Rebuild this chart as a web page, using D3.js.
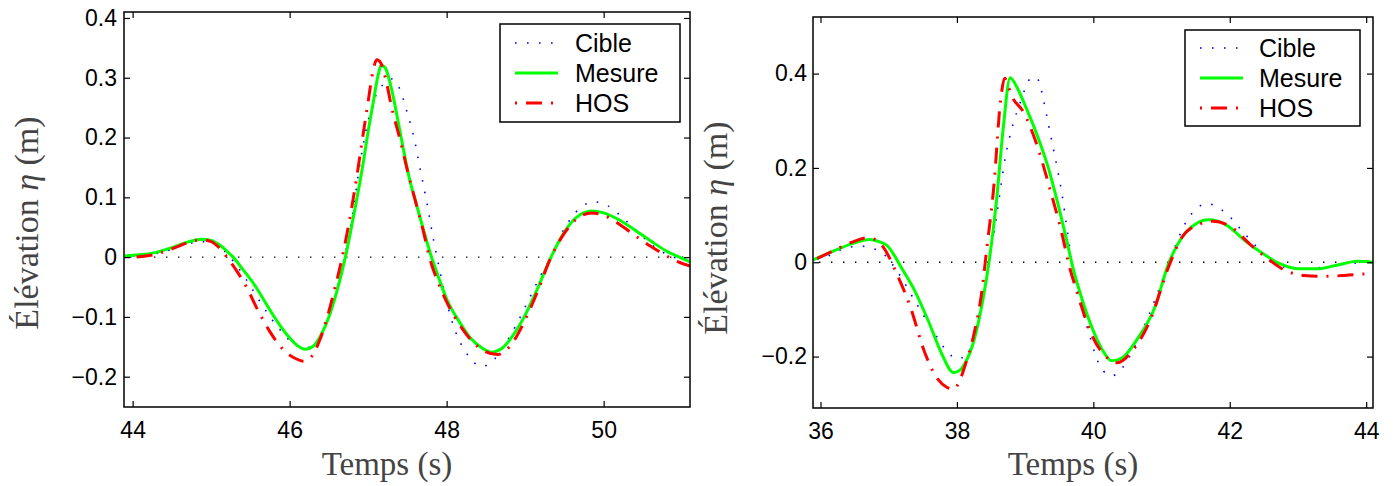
<!DOCTYPE html>
<html><head><meta charset="utf-8">
<script src="https://cdn.jsdelivr.net/npm/d3@7"></script>
<style>body{margin:0;background:#fff}svg{display:block}</style>
</head><body>
<svg id="c" width="1398" height="486"></svg>
<script>
// ---- data (time s, elevation m) ----
const leftXTicks = [44, 46, 48, 50];
const leftYTicks = [-0.2, -0.1, 0, 0.1, 0.2, 0.3, 0.4];
const rightXTicks = [36, 38, 40, 42, 44];
const rightYTicks = [-0.2, 0, 0.2, 0.4];
const seriesNames = ["Cible", "Mesure", "HOS"];

const leftCible = [[44.0,0.002],[44.3,0.006],[44.5,0.013],[44.7,0.022],[44.85,0.026],[45.0,0.024],[45.1,0.018],[45.2,0.006],[45.3,-0.01],[45.45,-0.038],[45.6,-0.07],[45.75,-0.1],[45.9,-0.125],[46.05,-0.145],[46.18,-0.152],[46.3,-0.148],[46.4,-0.13],[46.5,-0.1],[46.6,-0.055],[46.7,0.0],[46.8,0.07],[46.9,0.16],[46.97,0.21],[47.09,0.268],[47.2,0.29],[47.3,0.298],[47.4,0.282],[47.49,0.245],[47.6,0.19],[47.66,0.149],[47.75,0.09],[47.83,0.031],[47.92,-0.027],[48.0,-0.075],[48.1,-0.12],[48.25,-0.16],[48.45,-0.183],[48.6,-0.172],[48.75,-0.145],[48.9,-0.11],[49.05,-0.07],[49.2,-0.03],[49.33,0.0],[49.5,0.048],[49.7,0.082],[49.88,0.0925],[50.05,0.086],[50.25,0.065],[50.45,0.04],[50.65,0.017],[50.85,0.002],[51.1,-0.005]];
const leftMesure = [[43.9,0.002],[44.0,0.003],[44.3,0.008],[44.5,0.016],[44.7,0.025],[44.87,0.030],[45.0,0.028],[45.1,0.021],[45.2,0.010],[45.28,0.0],[45.4,-0.02],[45.55,-0.046],[45.7,-0.078],[45.85,-0.109],[46.0,-0.135],[46.1,-0.148],[46.2,-0.154],[46.3,-0.149],[46.4,-0.13],[46.5,-0.1],[46.6,-0.058],[46.71,0.0],[46.78,0.045],[46.86,0.1],[46.94,0.16],[47.0,0.21],[47.06,0.255],[47.12,0.30],[47.17,0.321],[47.22,0.316],[47.3,0.28],[47.37,0.235],[47.45,0.18],[47.53,0.129],[47.6,0.095],[47.7,0.048],[47.8,0.003],[47.9,-0.035],[48.0,-0.07],[48.17,-0.11],[48.3,-0.135],[48.45,-0.152],[48.57,-0.159],[48.7,-0.153],[48.85,-0.13],[49.0,-0.097],[49.15,-0.055],[49.33,0.0],[49.5,0.042],[49.65,0.066],[49.85,0.077],[50.0,0.074],[50.2,0.062],[50.4,0.045],[50.6,0.027],[50.8,0.01],[51.0,-0.002],[51.1,-0.008]];
const leftHOS = [[44.05,0.0],[44.3,0.005],[44.5,0.014],[44.7,0.024],[44.87,0.029],[45.0,0.026],[45.1,0.016],[45.2,0.0],[45.3,-0.018],[45.45,-0.05],[45.6,-0.09],[45.75,-0.125],[45.9,-0.152],[46.05,-0.168],[46.18,-0.174],[46.28,-0.166],[46.38,-0.14],[46.48,-0.1],[46.58,-0.05],[46.67,0.0],[46.76,0.06],[46.85,0.13],[46.93,0.2],[47.0,0.26],[47.06,0.31],[47.11,0.33],[47.16,0.325],[47.22,0.3],[47.3,0.25],[47.41,0.195],[47.5,0.145],[47.6,0.095],[47.7,0.045],[47.78,0.0],[47.9,-0.045],[48.0,-0.075],[48.2,-0.12],[48.4,-0.15],[48.65,-0.163],[48.8,-0.15],[49.0,-0.105],[49.15,-0.06],[49.33,0.0],[49.5,0.04],[49.65,0.063],[49.85,0.074],[50.0,0.07],[50.2,0.055],[50.4,0.036],[50.6,0.018],[50.8,0.002],[50.95,-0.008],[51.1,-0.015]];

const rightCible = [[35.95,0.007],[36.05,0.01],[36.39,0.031],[36.6,0.034],[36.75,0.03],[36.92,0.018],[37.12,-0.018],[37.38,-0.081],[37.65,-0.145],[37.85,-0.188],[38.01,-0.205],[38.18,-0.188],[38.31,-0.124],[38.44,-0.025],[38.58,0.096],[38.71,0.223],[38.81,0.286],[38.94,0.343],[39.05,0.385],[39.13,0.393],[39.2,0.385],[39.27,0.343],[39.37,0.272],[39.47,0.2],[39.54,0.145],[39.6,0.085],[39.66,0.025],[39.74,-0.046],[39.91,-0.138],[40.11,-0.223],[40.27,-0.241],[40.43,-0.223],[40.63,-0.173],[40.9,-0.081],[41.1,-0.004],[41.37,0.088],[41.67,0.124],[41.96,0.102],[42.22,0.06],[42.56,0.011],[42.82,-0.011],[43.15,-0.014],[43.35,-0.011],[43.68,-0.004],[44.01,0.0]];
const rightMesure = [[35.89,0.005],[36.26,0.028],[36.5,0.041],[36.72,0.048],[36.85,0.044],[36.98,0.035],[37.08,0.015],[37.18,-0.01],[37.38,-0.06],[37.58,-0.124],[37.78,-0.195],[37.95,-0.234],[38.05,-0.228],[38.11,-0.216],[38.25,-0.166],[38.38,-0.08],[38.48,0.01],[38.58,0.13],[38.68,0.286],[38.78,0.391],[38.88,0.371],[39.01,0.329],[39.17,0.272],[39.34,0.2],[39.47,0.13],[39.61,0.046],[39.70,-0.011],[39.84,-0.081],[40.04,-0.159],[40.15,-0.19],[40.27,-0.209],[40.43,-0.202],[40.63,-0.166],[40.9,-0.096],[41.1,-0.004],[41.3,0.053],[41.5,0.081],[41.69,0.09],[41.96,0.078],[42.22,0.046],[42.49,0.018],[42.75,-0.004],[43.02,-0.014],[43.28,-0.014],[43.55,-0.007],[43.88,0.002],[44.1,0.0]];
const rightHOS = [[35.95,0.008],[36.2,0.025],[36.45,0.042],[36.69,0.052],[36.8,0.048],[36.92,0.032],[37.12,-0.025],[37.32,-0.096],[37.52,-0.188],[37.72,-0.248],[37.85,-0.265],[37.95,-0.269],[38.03,-0.255],[38.11,-0.223],[38.25,-0.152],[38.36,-0.067],[38.44,0.032],[38.54,0.159],[38.64,0.343],[38.7,0.39],[38.76,0.37],[38.81,0.351],[38.97,0.32],[39.17,0.25],[39.37,0.152],[39.54,0.06],[39.64,-0.004],[39.77,-0.067],[39.97,-0.152],[40.17,-0.198],[40.35,-0.213],[40.57,-0.188],[40.83,-0.124],[41.1,-0.011],[41.3,0.053],[41.56,0.081],[41.76,0.087],[42.03,0.074],[42.29,0.039],[42.56,0.007],[42.82,-0.018],[43.09,-0.028],[43.35,-0.03],[43.68,-0.028],[44.1,-0.023]];

// ---- styles ----
const styles = {
  Cible:  {color:"#0000ff", width:1.6, dash:"1.6,10.4"},
  Mesure: {color:"#00ff00", width:3, dash:null},
  HOS:    {color:"#ff0000", width:3, dash:"16,9,2,9"}
};

const panels = [
  {id:"L", frame:{x0:124,x1:690,y0:12,y1:407}, xDomain:[43.89,51.1], yDomain:[-0.2507,0.41],
   xTicks:leftXTicks, yTicks:leftYTicks, yFmt:d3.format(".1f"), yPad:7,
   data:{Cible:leftCible, Mesure:leftMesure, HOS:leftHOS},
   legend:{x0:500,y0:24,x1:680,y1:122, rows:[43,73,103], textX:575}, ylab:{x:38,y:223}, xlab:{x:387,y:475}},
  {id:"R", frame:{x0:813,x1:1373,y0:17,y1:408}, xDomain:[35.89,44.1], yDomain:[-0.309,0.52],
   xTicks:rightXTicks, yTicks:rightYTicks, yFmt:d3.format(".1f"), yPad:6,
   data:{Cible:rightCible, Mesure:rightMesure, HOS:rightHOS},
   legend:{x0:1185,y0:30,x1:1360,y1:126, rows:[48,78,108], textX:1259}, ylab:{x:727,y:228}, xlab:{x:1073,y:475}}
];

const svg = d3.select("#c");
const sans = "'Liberation Sans', Arial, Helvetica, sans-serif";
const serif = "'Liberation Serif', 'Times New Roman', serif";

function fmtTick(v, f){ const s = (v===0) ? "0" : f(v); return s.replace("-", "\u2212"); }

panels.forEach(p => {
  const f = p.frame;
  const x = d3.scaleLinear().domain(p.xDomain).range([f.x0, f.x1]);
  const y = d3.scaleLinear().domain(p.yDomain).range([f.y1, f.y0]);
  const g = svg.append("g");

  g.append("clipPath").attr("id","clip"+p.id).append("rect")
    .attr("x",f.x0).attr("y",f.y0).attr("width",f.x1-f.x0).attr("height",f.y1-f.y0);

  // zero reference line
  g.append("line").attr("x1",f.x0+6).attr("x2",f.x1).attr("y1",y(0)).attr("y2",y(0))
    .attr("stroke","#000").attr("stroke-width",1.4).attr("stroke-dasharray","1.4,10.6");

  const line = d3.line().x(d=>x(d[0])).y(d=>y(d[1])).curve(d3.curveMonotoneX);
  const plot = g.append("g").attr("clip-path","url(#clip"+p.id+")");
  seriesNames.forEach(n => {
    const s = styles[n];
    plot.append("path").datum(p.data[n]).attr("d", line)
      .attr("fill","none").attr("stroke",s.color).attr("stroke-width",s.width)
      .attr("stroke-linejoin","round")
      .attr("stroke-dasharray", s.dash);
  });

  // axes with inward ticks, mirrored
  const tickLen = 6;
  const ax = g.append("g").attr("transform",`translate(0,${f.y1})`)
    .call(d3.axisBottom(x).tickValues(p.xTicks).tickSize(-tickLen).tickPadding(15).tickFormat(d3.format("d")));
  const axTop = g.append("g").attr("transform",`translate(0,${f.y0})`)
    .call(d3.axisTop(x).tickValues(p.xTicks).tickSize(-tickLen).tickFormat(""));
  const ay = g.append("g").attr("transform",`translate(${f.x0},0)`)
    .call(d3.axisLeft(y).tickValues(p.yTicks).tickSize(-tickLen).tickPadding(p.yPad).tickFormat(v=>fmtTick(v,p.yFmt)));
  const ayR = g.append("g").attr("transform",`translate(${f.x1},0)`)
    .call(d3.axisRight(y).tickValues(p.yTicks).tickSize(-tickLen).tickFormat(""));
  [ax,axTop,ay,ayR].forEach(a => {
    a.select(".domain").remove();
    a.selectAll(".tick line").attr("stroke","#000").attr("stroke-width",1.2);
    a.selectAll("text").attr("font-family",sans).attr("font-size",23).attr("fill","#000");
  });
  ax.selectAll("text").attr("dy","0.71em");

  // frame
  g.append("rect").attr("x",f.x0).attr("y",f.y0).attr("width",f.x1-f.x0).attr("height",f.y1-f.y0)
    .attr("fill","none").attr("stroke","#000").attr("stroke-width",1.5);

  // axis titles
  g.append("text").attr("x",p.xlab.x).attr("y",p.xlab.y).attr("text-anchor","middle")
    .attr("font-family",serif).attr("font-size",33).attr("fill","#444").text("Temps (s)");
  const yt = g.append("text").attr("transform",`translate(${p.ylab.x},${p.ylab.y}) rotate(-90)`)
    .attr("text-anchor","middle").attr("font-family",serif).attr("font-size",34).attr("fill","#444");
  yt.append("tspan").text("Élévation ");
  yt.append("tspan").attr("font-style","italic").text("η");
  yt.append("tspan").text(" (m)");

  // legend
  const L = p.legend;
  const lg = g.append("g");
  lg.append("rect").attr("x",L.x0).attr("y",L.y0).attr("width",L.x1-L.x0).attr("height",L.y1-L.y0)
    .attr("fill","#fff").attr("stroke","#000").attr("stroke-width",1.5);
  seriesNames.forEach((n,i) => {
    const s = styles[n];
    const cy = L.rows[i];
    lg.append("line").attr("x1",L.x0+15).attr("x2",L.x0+58).attr("y1",cy).attr("y2",cy)
      .attr("stroke",s.color).attr("stroke-width",s.width)
      .attr("stroke-dasharray", n==="HOS" ? "2,9,16,9" : s.dash);
    lg.append("text").attr("x",L.textX).attr("y",cy).attr("dy","0.36em")
      .attr("font-family",sans).attr("font-size",25).attr("fill","#000").text(n);
  });
});
</script>
</body></html>
